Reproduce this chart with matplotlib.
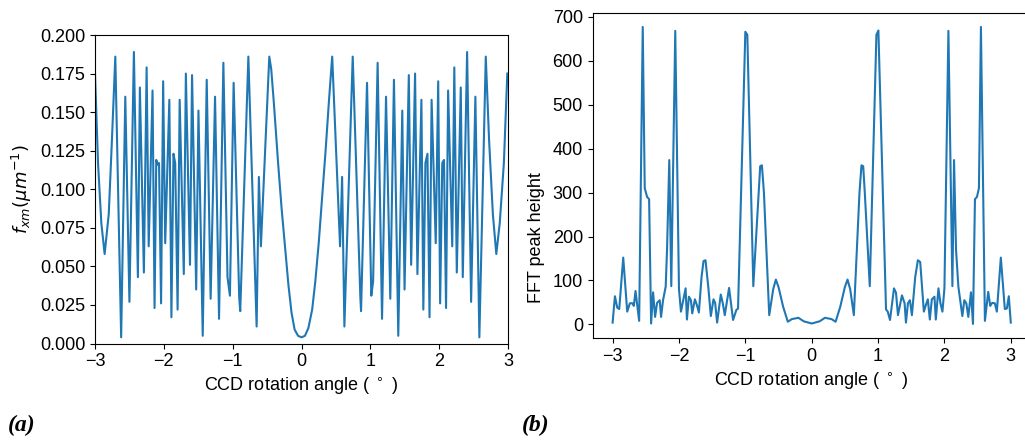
import matplotlib
matplotlib.use("Agg")
import matplotlib.pyplot as plt

# ---------- panel (a): f_xm vs CCD rotation angle ----------
angle_a = [-3.0, -2.956, -2.908, -2.86, -2.80, -2.754, -2.705, -2.62, -2.56, -2.50,
           -2.435, -2.377, -2.348, -2.29, -2.25, -2.22, -2.164, -2.135, -2.11, -2.09,
           -2.07, -2.04, -2.01, -1.98, -1.92, -1.89, -1.86, -1.835, -1.80, -1.77,
           -1.71, -1.68, -1.62, -1.59, -1.53, -1.497, -1.435, -1.377, -1.32, -1.256,
           -1.198, -1.135, -1.075, -1.04, -0.986, -0.905, -0.89, -0.772, -0.652, -0.619,
           -0.59, -0.468, -0.44, -0.40, -0.34, -0.29, -0.24, -0.19, -0.145, -0.10,
           -0.05, 0.0, 0.05, 0.10, 0.155, 0.20, 0.25, 0.30, 0.35, 0.40,
           0.446, 0.56, 0.59, 0.623, 0.744, 0.855, 0.865, 0.952, 1.014, 1.04,
           1.106, 1.17, 1.228, 1.29, 1.343, 1.406, 1.464, 1.497, 1.559, 1.593,
           1.65, 1.684, 1.742, 1.77, 1.80, 1.83, 1.86, 1.89, 1.95, 1.986,
           2.014, 2.045, 2.07, 2.10, 2.13, 2.19, 2.22, 2.256, 2.314, 2.343,
           2.406, 2.464, 2.526, 2.584, 2.677, 2.725, 2.78, 2.83, 2.88, 2.94,
           2.99]
fxm = [0.175, 0.117, 0.078, 0.058, 0.084, 0.132, 0.186, 0.004, 0.160, 0.027,
       0.189, 0.043, 0.166, 0.046, 0.179, 0.063, 0.164, 0.023, 0.119, 0.116,
       0.117, 0.026, 0.170, 0.065, 0.158, 0.017, 0.123, 0.117, 0.022, 0.158,
       0.045, 0.175, 0.051, 0.174, 0.035, 0.151, 0.005, 0.171, 0.029, 0.160,
       0.016, 0.182, 0.043, 0.031, 0.169, 0.030, 0.021, 0.186, 0.011, 0.108,
       0.063, 0.186, 0.178, 0.155, 0.117, 0.088, 0.063, 0.038, 0.020, 0.009,
       0.005, 0.004, 0.005, 0.010, 0.022, 0.040, 0.065, 0.095, 0.125, 0.158,
       0.186, 0.063, 0.108, 0.011, 0.186, 0.030, 0.021, 0.169, 0.031, 0.040,
       0.182, 0.016, 0.160, 0.029, 0.171, 0.005, 0.151, 0.035, 0.174, 0.051,
       0.175, 0.045, 0.158, 0.022, 0.117, 0.123, 0.017, 0.158, 0.065, 0.170,
       0.026, 0.117, 0.119, 0.023, 0.164, 0.063, 0.179, 0.046, 0.166, 0.043,
       0.189, 0.027, 0.160, 0.004, 0.186, 0.132, 0.084, 0.058, 0.078, 0.117,
       0.175]

# ---------- panel (b): FFT peak height vs CCD rotation angle ----------
angle_b = [-3.0, -2.965, -2.93, -2.90, -2.84, -2.78, -2.74, -2.70, -2.68, -2.655,
           -2.60, -2.546, -2.516, -2.48, -2.45, -2.42, -2.39, -2.36, -2.33, -2.29,
           -2.27, -2.24, -2.20, -2.18, -2.146, -2.116, -2.056, -2.0, -1.97, -1.90,
           -1.88, -1.85, -1.82, -1.80, -1.76, -1.73, -1.70, -1.66, -1.63, -1.60,
           -1.555, -1.52, -1.48, -1.455, -1.425, -1.37, -1.34, -1.31, -1.245, -1.185,
           -1.135, -1.11, -1.0, -0.97, -0.88, -0.80, -0.776, -0.75, -0.72, -0.64,
           -0.58, -0.54, -0.50, -0.43, -0.36, -0.30, -0.20, -0.12, 0.0, 0.12,
           0.20, 0.30, 0.36, 0.43, 0.50, 0.54, 0.58, 0.635, 0.72, 0.75,
           0.776, 0.80, 0.875, 0.975, 1.005, 1.12, 1.146, 1.18, 1.24, 1.27,
           1.30, 1.36, 1.40, 1.42, 1.45, 1.48, 1.51, 1.56, 1.60, 1.635,
           1.69, 1.72, 1.75, 1.78, 1.81, 1.85, 1.87, 1.91, 1.94, 1.97,
           2.0, 2.06, 2.12, 2.145, 2.175, 2.21, 2.27, 2.30, 2.33, 2.36,
           2.40, 2.43, 2.46, 2.49, 2.52, 2.55, 2.61, 2.66, 2.69, 2.72,
           2.76, 2.79, 2.85, 2.91, 2.94, 2.97, 3.0]
fft_height = [4, 64, 38, 35, 152, 29, 48, 48, 42, 76,
              8, 677, 310, 290, 285, 2, 73, 17, 49, 55,
              17, 55, 86, 169, 374, 87, 668, 80, 29, 82,
              11, 63, 55, 25, 57, 44, 27, 108, 144, 146,
              80, 19, 57, 49, 4, 68, 48, 21, 83, 10,
              33, 36, 666, 659, 87, 300, 360, 362, 300, 21,
              80, 102, 85, 40, 6, 12, 15, 7, 2, 7,
              15, 12, 6, 40, 85, 102, 80, 21, 300, 362,
              360, 300, 87, 659, 669, 34, 29, 10, 82, 72,
              21, 66, 48, 4, 48, 55, 21, 108, 146, 142,
              29, 44, 57, 11, 57, 63, 11, 82, 48, 29,
              82, 668, 87, 374, 169, 86, 19, 55, 48, 17,
              73, 1, 285, 290, 310, 677, 8, 74, 42, 49,
              48, 29, 152, 35, 36, 64, 4]

xticks = [-3, -2, -1, 0, 1, 2, 3]
yticks_a = [0.000, 0.025, 0.050, 0.075, 0.100, 0.125, 0.150, 0.175, 0.200]
yticks_b = [0, 100, 200, 300, 400, 500, 600, 700]

plt.rcParams['font.family'] = ['Liberation Sans', 'DejaVu Sans']
line_color = '#1f77b4'

fig = plt.figure(figsize=(10.25, 4.41), dpi=100)

ax1 = fig.add_axes([95/1025, (441-343.5)/441, 413/1025, 308.5/441])
ax1.plot(angle_a, fxm, color=line_color, lw=1.5)
ax1.set_xlim(-3, 3)
ax1.set_ylim(0, 0.2)
ax1.set_xticks(xticks)
ax1.set_yticks(yticks_a)
ax1.set_yticklabels([f"{v:.3f}" for v in yticks_a])
ax1.tick_params(labelsize=13)
ax1.set_xlabel('CCD rotation angle ( $^\\circ$ )', fontsize=13)
ax1.set_ylabel('$f_{xm} (\\mu m^{-1})$', fontsize=13)

ax2 = fig.add_axes([592.7/1025, (441-338)/441, 438/1025, 324.7/441])
ax2.plot(angle_b, fft_height, color=line_color, lw=1.5)
ax2.set_xlim(-3.3, 3.3)
ax2.set_ylim(-31, 708)
ax2.set_xticks(xticks)
ax2.set_yticks(yticks_b)
ax2.tick_params(labelsize=13)
ax2.set_xlabel('CCD rotation angle ( $^\\circ$ )', fontsize=13)
ax2.set_ylabel('FFT peak height', fontsize=13)
ax2.yaxis.set_label_coords(-0.108, 0.31)

fig.text(8/1025, 1 - 425/441, '(a)', fontsize=17, fontweight='bold', fontstyle='italic',
         family='Liberation Serif', va='center', ha='left')
fig.text(522/1025, 1 - 425/441, '(b)', fontsize=17, fontweight='bold', fontstyle='italic',
         family='Liberation Serif', va='center', ha='left')

fig.savefig('out.png', dpi=100)
